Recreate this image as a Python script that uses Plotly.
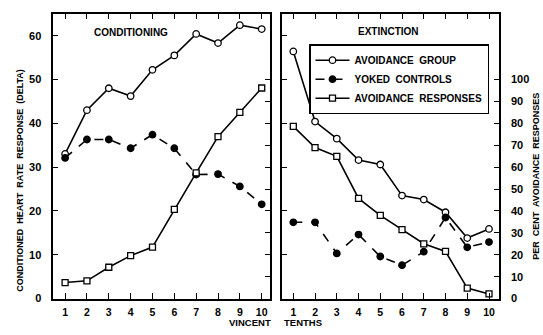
import plotly.graph_objects as go

trials = [1, 2, 3, 4, 5, 6, 7, 8, 9, 10]

# Conditioning phase
cond_avoid_group = [33.0, 43.0, 48.0, 46.2, 52.2, 55.5, 60.4, 58.3, 62.4, 61.5]
cond_yoked = [32.1, 36.3, 36.3, 34.3, 37.4, 34.3, 28.3, 28.4, 25.6, 21.5]
cond_avoid_resp = [7.3, 8.1, 14.3, 19.6, 23.5, 40.7, 57.4, 73.9, 85.0, 96.1]

# Extinction phase
ext_avoid_group = [56.4, 40.4, 36.5, 31.6, 30.6, 23.5, 22.6, 19.7, 13.8, 15.9]
ext_yoked = [17.4, 17.4, 10.3, 14.6, 9.6, 7.6, 10.7, 18.5, 11.7, 12.9]
ext_avoid_resp = [78.6, 68.9, 64.9, 45.7, 38.0, 31.5, 25.0, 21.5, 4.8, 2.1]

hr_ticks = [0, 10, 20, 30, 40, 50, 60]
pct_ticks = [0, 10, 20, 30, 40, 50, 60, 70, 80, 90, 100]

FONT = "Liberation Sans"
BLK = "black"

fig = go.Figure()

def add_series(x, y, xa, ya, name, sym, fill, dash, show):
    fig.add_trace(go.Scatter(
        x=x, y=y, xaxis=xa, yaxis=ya, name=name, mode="lines+markers",
        line=dict(color=BLK, width=1.6, dash=dash),
        marker=dict(symbol=sym, size=6.5 if sym == "circle" else 6,
                    color=fill, line=dict(color=BLK, width=1.3)),
        showlegend=show,
    ))

# left panel
add_series(trials, cond_avoid_group, "x", "y", "AVOIDANCE  GROUP", "circle", "white", "solid", False)
add_series(trials, cond_yoked, "x", "y", "YOKED  CONTROLS", "circle", BLK, "dash", False)
add_series(trials, cond_avoid_resp, "x", "y3", "AVOIDANCE  RESPONSES", "square", "white", "solid", False)
# right panel
add_series(trials, ext_avoid_group, "x2", "y2", "AVOIDANCE  GROUP", "circle", "white", "solid", True)
add_series(trials, ext_yoked, "x2", "y2", "YOKED  CONTROLS", "circle", BLK, "dash", True)
add_series(trials, ext_avoid_resp, "x2", "y4", "AVOIDANCE  RESPONSES", "square", "white", "solid", True)

W, H = 543, 335
xl = [53.3 / W, 270 / W]
xr = [282 / W, 499 / W]
yd = [(H - 304) / H, (H - 14) / H]

tickfont = dict(family=FONT, size=11, color=BLK)
xtickfont = dict(family=FONT, size=10.5, color=BLK)
common_x = dict(tickvals=trials, ticks="inside", ticklen=6, tickwidth=1.2, tickcolor=BLK,
                showline=True, linecolor=BLK, linewidth=1.5, mirror="ticks",
                showgrid=False, zeroline=False, tickfont=xtickfont, ticklabelstandoff=3)

fig.update_layout(
    width=W, height=H,
    margin=dict(l=0, r=0, t=0, b=0),
    paper_bgcolor="white", plot_bgcolor="white",
    font=dict(family=FONT, color=BLK, size=11, weight="bold"),
    xaxis=dict(domain=xl, range=[0.46, 10.38], anchor="y", **common_x),
    xaxis2=dict(domain=xr, range=[0.48, 10.46], anchor="y2", **common_x),
    yaxis=dict(domain=yd, range=[0, 65], anchor="x", tickvals=hr_ticks, ticks="inside",
               ticklen=5, tickcolor=BLK, showline=True, linecolor=BLK, linewidth=1.5,
               showgrid=False, zeroline=False, tickfont=tickfont, ticklabelstandoff=8),
    yaxis3=dict(range=[0, 130], overlaying="y", anchor="x", side="right", tickvals=pct_ticks,
                ticks="inside", ticklen=5, tickcolor=BLK, showline=True, linecolor=BLK,
                linewidth=1.5, showgrid=False, zeroline=False, showticklabels=False),
    yaxis2=dict(domain=yd, range=[0, 65], anchor="x2", tickvals=hr_ticks, ticks="inside",
                ticklen=5, tickcolor=BLK, showline=True, linecolor=BLK, linewidth=1.5,
                showgrid=False, zeroline=False, showticklabels=False),
    yaxis4=dict(range=[0, 130], overlaying="y2", anchor="x2", side="right", tickvals=pct_ticks,
                ticks="inside", ticklen=5, tickcolor=BLK, showline=True, linecolor=BLK,
                linewidth=1.5, showgrid=False, zeroline=False, tickfont=tickfont,
                ticklabelstandoff=8),
    legend=dict(x=309 / W, y=(H - 45) / H, xanchor="left", yanchor="top",
                bgcolor="white", bordercolor=BLK, borderwidth=1.5,
                font=dict(family=FONT, size=10, color=BLK, weight="bold"),
                itemwidth=34, tracegroupgap=0, traceorder="normal"),
)

anns = [
    dict(text="CONDITIONING", x=131 / W, y=(H - 33) / H, size=10, angle=0),
    dict(text="EXTINCTION", x=389 / W, y=(H - 32) / H, size=10, angle=0),
    dict(text="CONDITIONED  HEART  RATE  RESPONSE  (DELTA)", x=20 / W, y=(H - 184) / H, size=9, angle=-90),
    dict(text="PER  CENT  AVOIDANCE  RESPONSES", x=536 / W, y=(H - 180) / H, size=9, angle=-90),
]
for a in anns:
    fig.add_annotation(text=a["text"], xref="paper", yref="paper", x=a["x"], y=a["y"],
                       showarrow=False, textangle=a["angle"], xanchor="center", yanchor="middle",
                       font=dict(family=FONT, size=a["size"], color=BLK, weight="bold"))

fig.add_annotation(text="VINCENT", xref="paper", yref="paper", x=272 / W, y=(H - 328.5) / H,
                   showarrow=False, xanchor="right", yanchor="middle", borderpad=0,
                   font=dict(family=FONT, size=9.5, color=BLK, weight="bold"))
fig.add_annotation(text="TENTHS", xref="paper", yref="paper", x=283 / W, y=(H - 328.5) / H,
                   showarrow=False, xanchor="left", yanchor="middle", borderpad=0,
                   font=dict(family=FONT, size=9.5, color=BLK, weight="bold"))

fig.write_html("out.html", config={"displayModeBar": False},
               post_script="document.body.style.margin='0';")
